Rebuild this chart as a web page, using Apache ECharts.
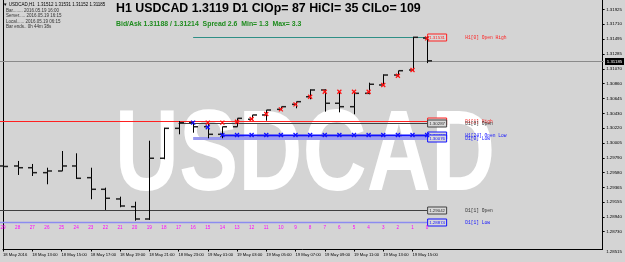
<!DOCTYPE html>
<html>
<head>
<meta charset="utf-8">
<script src="https://cdn.jsdelivr.net/npm/echarts@6/dist/echarts.min.js"></script>
<style>
html, body { margin: 0; padding: 0; background: #d4d4d4; }
#chart { width: 625px; height: 262px; }
</style>
</head>
<body>
<div id="chart"></div>
<script>
var chartDom = document.getElementById('chart');
var myChart = echarts.init(chartDom);

// x axis labels, one every second H1 bar (bar 29 .. bar 1)
var timeLabels = ['18 May 2016', '18 May 13:00', '18 May 15:00', '18 May 17:00', '18 May 19:00',
  '18 May 21:00', '18 May 23:00', '19 May 01:00', '19 May 03:00', '19 May 05:00',
  '19 May 07:00', '19 May 09:00', '19 May 11:00', '19 May 13:00', '19 May 15:00'];
// bar numbers (shift), oldest first
var barNums = [29, 28, 27, 26, 25, 24, 23, 22, 21, 20, 19, 18, 17, 16, 15, 14, 13, 12, 11, 10, 9, 8, 7, 6, 5, 4, 3, 2, 1, 0];
var opens  = [1.29674, 1.29674, 1.29649, 1.29578, 1.29602, 1.29674, 1.29506, 1.29339, 1.29200, 1.29089,
  1.28912, 1.29785, 1.30215, 1.30296, 1.30238, 1.30129, 1.30238, 1.30345, 1.30407, 1.30488,
  1.30560, 1.30669, 1.30766, 1.30575, 1.30526, 1.30718, 1.30838, 1.30981, 1.31053, 1.31512];
var highs  = [1.29688, 1.29746, 1.29703, 1.29649, 1.29889, 1.29856, 1.29649, 1.29362, 1.29233, 1.29161,
  1.30037, 1.30224, 1.30320, 1.30310, 1.30296, 1.30238, 1.30359, 1.30407, 1.30478, 1.30526,
  1.30598, 1.30776, 1.30776, 1.30741, 1.30741, 1.30871, 1.30991, 1.31043, 1.31531, 1.31531];
var lows   = [1.29502, 1.29545, 1.29530, 1.29411, 1.29602, 1.29487, 1.29196, 1.29042, 1.29081, 1.28888,
  1.28898, 1.29770, 1.30129, 1.30152, 1.30072, 1.30072, 1.30238, 1.30335, 1.30325, 1.30478,
  1.30503, 1.30632, 1.30454, 1.30445, 1.30417, 1.30704, 1.30823, 1.30957, 1.31043, 1.31152];
var closes = [1.29667, 1.29649, 1.29578, 1.29602, 1.29674, 1.29497, 1.29339, 1.29210, 1.29099, 1.28912,
  1.29785, 1.30215, 1.30296, 1.30238, 1.30129, 1.30238, 1.30359, 1.30407, 1.30478, 1.30526,
  1.30598, 1.30766, 1.30575, 1.30526, 1.30718, 1.30848, 1.30981, 1.31043, 1.31523, 1.31185];
// indicator marks (red = up, blue = down), null where none
var upMarks = [null, null, null, null, null, null, null, null, null, null, null, null, null, null,
  1.30296, 1.30296, 1.30310, 1.30349, 1.30421, 1.30488, 1.30560, 1.30669, 1.30741, 1.30741,
  1.30741, 1.30741, 1.30838, 1.30971, 1.31053, 1.31508];
var downMarks = [null, null, null, null, null, null, null, null, null, null, null, null, null, 1.30296,
  1.30230, 1.30119, 1.30119, 1.30119, 1.30119, 1.30119, 1.30119, 1.30119, 1.30119, 1.30119,
  1.30119, 1.30119, 1.30119, 1.30119, 1.30119, 1.30119];

// price levels
var levelNames  = ['H1[0] Open High', 'D1[1] High', 'D1[0] Open', 'H1[24] Open Low', 'D1[0] Low', 'D1[1] Open', 'D1[1] Low'];
var levelPrices = [1.31531, 1.30325, 1.30287, 1.30119, 1.30076, 1.29042, 1.28874];
var levelStart  = [13, 0, 12, 15, 13, 0, 0];
var levelColors = ['#2f8f86', '#ff2020', '#404040', '#1010ff', '#9a9af0', '#404040', '#8c8cf0'];
var levelWidths = [1, 1, 1, 2, 3, 1, 1.5];
var levelText   = ['#ff2020', '#ff2020', '#303030', '#1010ff', '#1010ff', '#303030', '#1010ff'];
var levelBox    = ['#ff2020', '#ff2020', '#404040', '#1010ff', '#1010ff', '#404040', '#1010ff'];

// right price scale
var yTicks = [1.28481, 1.28730, 1.28940, 1.29155, 1.29365, 1.29580, 1.29790, 1.30005, 1.30220,
  1.30430, 1.30645, 1.30860, 1.31070, 1.31285, 1.31495, 1.31710, 1.31925];
var yTickLabels = ['1.28515', '1.28730', '1.28940', '1.29155', '1.29365', '1.29580', '1.29790', '1.30005', '1.30220',
  '1.30430', '1.30645', '1.30860', '1.31070', '1.31285', '1.31495', '1.31710', '1.31925'];
var yMin = 1.28481, yMax = 1.32059;
var bidPrice = 1.31185;

var slots = 42;
var cats = [];
for (var i = 0; i < slots; i++) {
  cats.push(i % 2 === 0 && i / 2 < timeLabels.length ? timeLabels[i / 2] : '');
}
var barData = [];
var upData = [], downData = [], numData = [];
for (var i = 0; i < barNums.length; i++) {
  barData.push([i, opens[i], highs[i], lows[i], closes[i]]);
  if (upMarks[i] != null) upData.push([i, upMarks[i]]);
  if (downMarks[i] != null) downData.push([i, downMarks[i]]);
  numData.push([i, yMin, barNums[i]]);
}
var levelData = levelPrices.map(function (p, k) { return [levelStart[k], p, 29.27, k]; });

var tinyFont = '"Liberation Sans", Arial, sans-serif';
var monoFont = '"Liberation Mono", "DejaVu Sans Mono", monospace';

function renderBar(params, api) {
  var x = Math.round(api.coord([api.value(0), 0])[0]) + 0.5;
  var yo = api.coord([0, api.value(1)])[1];
  var yh = api.coord([0, api.value(2)])[1];
  var yl = api.coord([0, api.value(3)])[1];
  var yc = api.coord([0, api.value(4)])[1];
  return {
    type: 'group',
    children: [
      { type: 'line', shape: { x1: x, y1: yh, x2: x, y2: yl }, style: { stroke: '#000', lineWidth: 1 } },
      { type: 'line', shape: { x1: x - 4.5, y1: yo, x2: x, y2: yo }, style: { stroke: '#202020', lineWidth: 1.5 } },
      { type: 'line', shape: { x1: x, y1: yc, x2: x + 4.5, y2: yc }, style: { stroke: '#202020', lineWidth: 1.5 } }
    ]
  };
}

function markRenderer(color) {
  return function (params, api) {
    var pt = api.coord([api.value(0), api.value(1)]);
    var s = 2;
    return {
      type: 'group',
      children: [
        { type: 'line', shape: { x1: pt[0] - s, y1: pt[1] - s, x2: pt[0] + s, y2: pt[1] + s }, style: { stroke: color, lineWidth: 1.2 } },
        { type: 'line', shape: { x1: pt[0] - s, y1: pt[1] + s, x2: pt[0] + s, y2: pt[1] - s }, style: { stroke: color, lineWidth: 1.2 } }
      ]
    };
  };
}

function renderLevel(params, api) {
  var k = api.value(3);
  var p0 = api.coord([api.value(0), api.value(1)]);
  var p1 = api.coord([api.value(2), api.value(1)]);
  var y = Math.round(p0[1]) + 0.5;
  var x0 = api.value(0) === 0 ? 0 : p0[0];
  return {
    type: 'group',
    children: [
      { type: 'line', shape: { x1: x0, y1: y, x2: p1[0], y2: y }, style: { stroke: levelColors[k], lineWidth: levelWidths[k] } },
      { type: 'rect', shape: { x: p1[0] + 0.5, y: y - 3.5, width: 19, height: 7 },
        style: { fill: '#d8d8d8', stroke: levelBox[k], lineWidth: 1 } },
      { type: 'text', x: p1[0] + 10, y: y,
        style: { text: levelPrices[k].toFixed(5), fill: levelText[k], font: '4.4px ' + tinyFont,
          textAlign: 'center', textVerticalAlign: 'middle' } },
      { type: 'text', x: p1[0] + 38, y: y,
        style: { text: levelNames[k], fill: levelText[k], font: '4.6px ' + monoFont,
          textAlign: 'left', textVerticalAlign: 'middle' } }
    ]
  };
}

function renderNum(params, api) {
  var pt = api.coord([api.value(0), api.value(1)]);
  return {
    type: 'text', x: pt[0], y: pt[1] - 21.5,
    style: { text: String(api.value(2)), fill: '#ff00ff', font: '4.6px ' + tinyFont,
      textAlign: 'center', textVerticalAlign: 'middle' }
  };
}

function renderBid(params, api) {
  var p = api.coord([0, api.value(1)]);
  var y = Math.round(p[1]) + 0.5;
  return {
    type: 'group',
    children: [
      { type: 'line', shape: { x1: 0, y1: y, x2: 604, y2: y }, style: { stroke: '#8a8a8a', lineWidth: 1 } },
      { type: 'rect', shape: { x: 605, y: y - 3.5, width: 19, height: 7 }, style: { fill: '#000' } },
      { type: 'text', x: 614.5, y: y,
        style: { text: api.value(1).toFixed(5), fill: '#fff', font: '4.4px ' + tinyFont,
          textAlign: 'center', textVerticalAlign: 'middle' } }
    ]
  };
}

var option = {
  backgroundColor: '#d4d4d4',
  animation: false,
  grid: { left: 2.7, right: 21, top: 0, bottom: 13 },
  xAxis: {
    type: 'category',
    data: cats,
    boundaryGap: false,
    axisLine: { lineStyle: { color: '#000', width: 1 } },
    axisTick: { length: 2.5, lineStyle: { color: '#000' },
      interval: function (idx) { return idx % 2 === 0 && idx <= 28; } },
    axisLabel: { interval: function (idx) { return idx % 2 === 0 && idx <= 28; },
      align: 'left', margin: 3.5, fontSize: 4.2, fontFamily: tinyFont, color: '#000' },
    splitLine: { show: false }
  },
  yAxis: [{
    type: 'value',
    position: 'right',
    min: yMin,
    max: yMax,
    axisLine: { show: true, lineStyle: { color: '#000', width: 1 } },
    axisTick: { show: true, length: 2, lineStyle: { color: '#000' }, customValues: yTicks.slice(1) },
    axisLabel: {
      customValues: yTicks,
      margin: 3.5,
      fontSize: 4.4,
      fontFamily: tinyFont,
      color: '#000',
      formatter: function (v) {
        var k = 0, best = 1;
        for (var j = 0; j < yTicks.length; j++) {
          if (Math.abs(yTicks[j] - v) < best) { best = Math.abs(yTicks[j] - v); k = j; }
        }
        return k === 0 ? '{b|' + yTickLabels[k] + '}' : yTickLabels[k];
      },
      rich: { b: { fontSize: 4.4, fontFamily: tinyFont, color: '#000', padding: [5, 0, 0, 0] } }
    },
    splitLine: { show: false }
  }, {
    type: 'value',
    position: 'left',
    min: yMin,
    max: yMax,
    axisLine: { show: true, lineStyle: { color: '#000', width: 1 } },
    axisTick: { show: false },
    axisLabel: { show: false },
    splitLine: { show: false }
  }],
  graphic: [
    { type: 'text', x: 305, y: 158, scaleY: 1.3, z: -10, silent: true,
      style: { text: 'USDCAD', fill: '#ffffff', font: 'bold 89px "Liberation Sans", Arial, sans-serif',
        textAlign: 'center', textVerticalAlign: 'middle' } },
    { type: 'text', x: 116, y: 8.5,
      style: { text: 'H1 USDCAD 1.3119 D1 ClOp= 87 HiCl= 35 ClLo= 109', fill: '#000',
        font: 'bold 12.4px "Liberation Sans", Arial, sans-serif', textVerticalAlign: 'middle' } },
    { type: 'text', x: 116, y: 24,
      style: { text: 'Bid/Ask 1.31188 / 1.31214  Spread 2.6  Min= 1.3  Max= 3.3', fill: '#1e8c1e',
        font: 'bold 6.9px "Liberation Sans", Arial, sans-serif', textVerticalAlign: 'middle' } },
    { type: 'text', x: 3, y: 4.7,
      style: { text: '\u25BC USDCAD,H1  1.31512 1.31531 1.31152 1.31185', fill: '#000',
        font: '4.5px ' + tinyFont, textVerticalAlign: 'middle' } },
    { type: 'text', x: 6, y: 10.7,
      style: { text: 'Bar........ 2016.05.19 16:00', fill: '#333', font: '4.5px ' + tinyFont, textVerticalAlign: 'middle' } },
    { type: 'text', x: 6, y: 16,
      style: { text: 'Server..... 2016.05.19 16:15', fill: '#333', font: '4.5px ' + tinyFont, textVerticalAlign: 'middle' } },
    { type: 'text', x: 6, y: 21.3,
      style: { text: 'Local...... 2016.05.19 06:15', fill: '#333', font: '4.5px ' + tinyFont, textVerticalAlign: 'middle' } },
    { type: 'text', x: 6, y: 26.7,
      style: { text: 'Bar ends.. 0h 44m 38s', fill: '#333', font: '4.5px ' + tinyFont, textVerticalAlign: 'middle' } }
  ],
  series: [
    { type: 'custom', name: 'levels', clip: false, z: 3, renderItem: renderLevel, data: levelData,
      encode: { x: 0, y: 1 } },
    { type: 'custom', name: 'bid', clip: false, z: 3, renderItem: renderBid, data: [[0, bidPrice]],
      encode: { x: 0, y: 1 } },
    { type: 'custom', name: 'bars', z: 4, renderItem: renderBar, data: barData,
      encode: { x: 0, y: [1, 2, 3, 4] } },
    { type: 'custom', name: 'up', z: 5, clip: false, renderItem: markRenderer('#ff1010'), data: upData,
      encode: { x: 0, y: 1 } },
    { type: 'custom', name: 'down', z: 5, clip: false, renderItem: markRenderer('#1010ff'), data: downData,
      encode: { x: 0, y: 1 } },
    { type: 'custom', name: 'nums', z: 5, clip: false, renderItem: renderNum, data: numData,
      encode: { x: 0, y: 1 } }
  ]
};

myChart.setOption(option);
window.addEventListener('resize', function () {
  myChart.resize();
});
</script>
</body>
</html>
